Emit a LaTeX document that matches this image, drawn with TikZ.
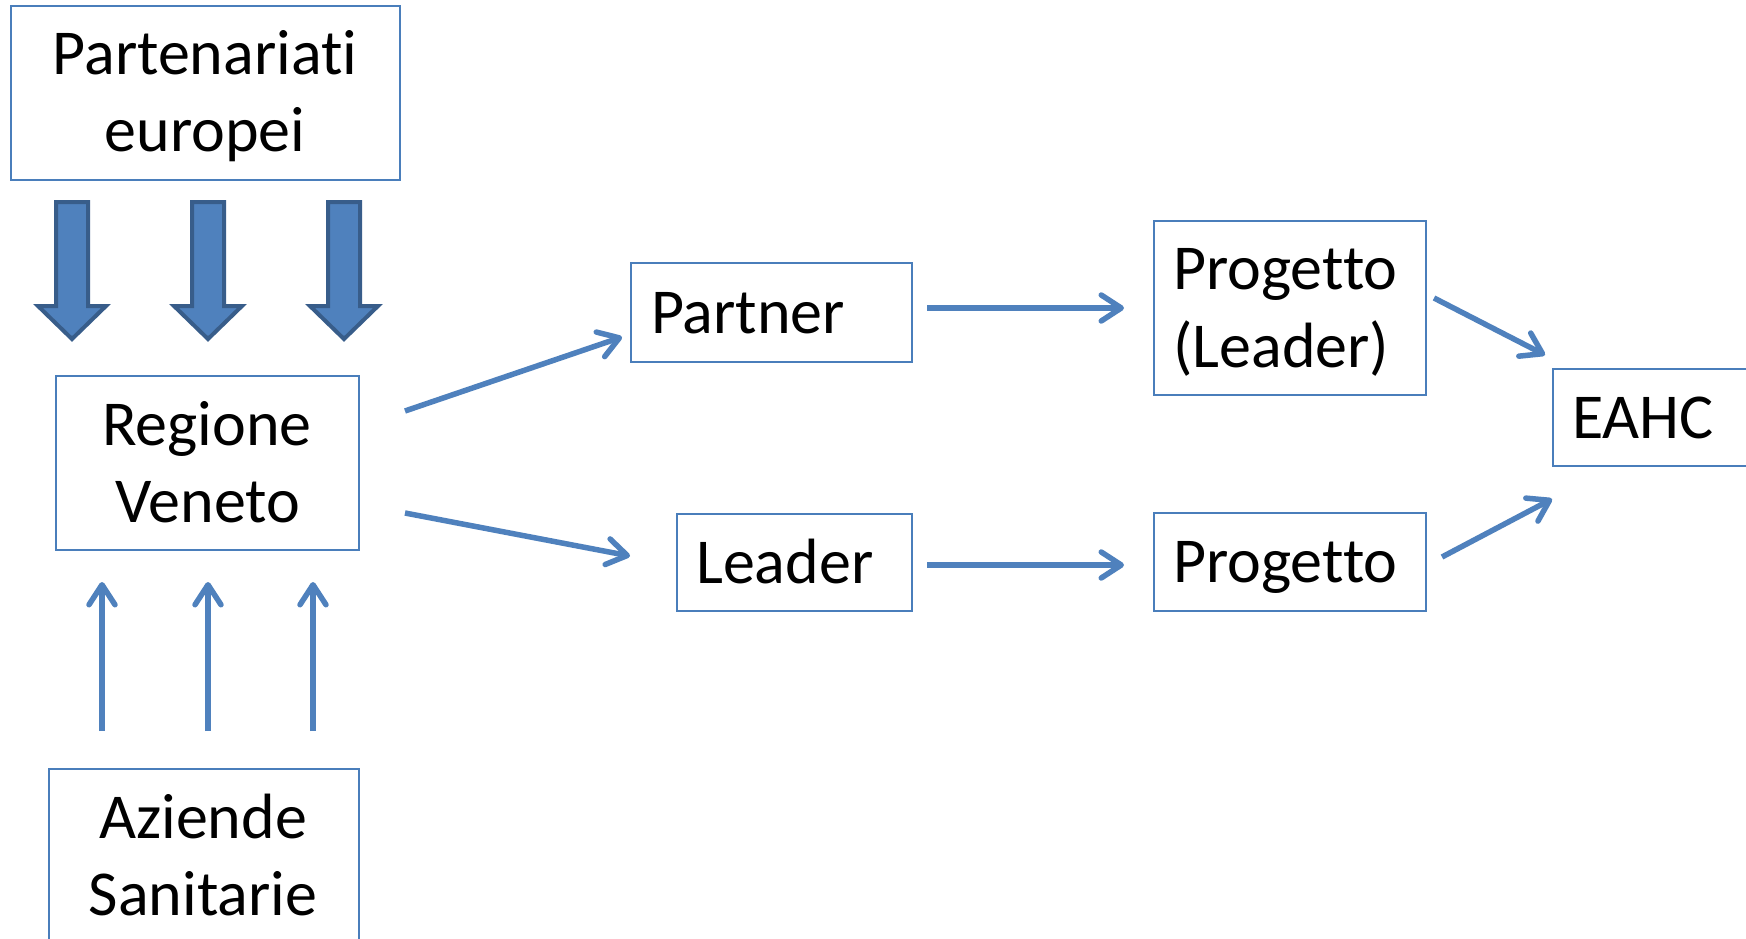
\documentclass[tikz,border=0pt]{standalone}
\usepackage{fontspec}
\setmainfont{Carlito}[Ligatures=NoCommon]
\usetikzlibrary{arrows.meta}
\definecolor{boxblue}{RGB}{74,126,187}
\definecolor{arrblue}{RGB}{79,129,189}
\definecolor{blkfill}{RGB}{79,129,189}
\definecolor{blkline}{RGB}{56,93,138}
\begin{document}
\begin{tikzpicture}[x=1pt,y=-1pt,
  box/.style={draw=boxblue,line width=2.2pt,inner sep=0pt},
  lbl/.style={inner sep=0pt,font=\fontsize{64}{77}\selectfont,anchor=base},
  lblw/.style={lbl,anchor=base west},
  conn/.style={draw=arrblue,line width=5.5pt,-{Straight Barb[length=20pt,width=26pt,round]}},
  blk/.style={fill=blkfill,draw=blkline,line width=4pt,line join=miter}]
\useasboundingbox (0,0) rectangle (1746,939);
\clip (0,0) rectangle (1746,939);
\fill[white] (0,0) rectangle (1746,939);

% boxes
\node[box,minimum width=389pt,minimum height=174pt] (part) at (205.5,93) {};
\node[box,minimum width=303pt,minimum height=174pt] (reg) at (207.5,463) {};
\node[box,minimum width=310pt,minimum height=221pt] (azi) at (204,879.5) {};
\node[box,minimum width=281pt,minimum height=99pt] (partner) at (771.5,312.5) {};
\node[box,minimum width=235pt,minimum height=97pt] (leader) at (794.5,562.5) {};
\node[box,minimum width=272pt,minimum height=174pt] (pl) at (1290,308) {};
\node[box,minimum width=272pt,minimum height=98pt] (prog) at (1290,562) {};
\node[box,minimum width=247pt,minimum height=97pt] (eahc) at (1676.5,417.5) {};

% texts
\node[lbl] (t1) at (205,75) {Partenariati};
\node[lbl] (t2) at (205,152) {europei};
\node[lbl] (t3) at (207,445) {Regione};
\node[lbl] (t4) at (208,522) {Veneto};
\node[lbl] (t5) at (203,838) {Aziende};
\node[lbl] (t6) at (203,915) {Sanitarie};
\node[lblw] (t7) at (651,333) {Partner};
\node[lblw] (t8) at (696,583) {Leader};
\node[lblw] (t9) at (1173,289) {Progetto};
\node[lblw] (t10) at (1173,367) {(Leader)};
\node[lblw] (t11) at (1173,582) {Progetto};
\node[lblw] (t12) at (1572,438) {EAHC};

% block arrows
\draw[blk] (56,202) -- (88,202) -- (88,306) -- (106,306) -- (72,339) -- (38,306) -- (56,306) -- cycle;
\draw[blk] (192,202) -- (224,202) -- (224,306) -- (242,306) -- (208,339) -- (174,306) -- (192,306) -- cycle;
\draw[blk] (328,202) -- (360,202) -- (360,306) -- (378,306) -- (344,339) -- (310,306) -- (328,306) -- cycle;

% connector end points
\coordinate (u1s) at (102,731); \coordinate (u1e) at (102,582);
\coordinate (u2s) at (208,731); \coordinate (u2e) at (208,582);
\coordinate (u3s) at (313,731); \coordinate (u3e) at (313,582);
\coordinate (a1s) at (405,411); \coordinate (a1e) at (622,337);
\coordinate (a2s) at (405,513); \coordinate (a2e) at (630,556);
\coordinate (a3s) at (927,308); \coordinate (a3e) at (1124,308);
\coordinate (a4s) at (927,565); \coordinate (a4e) at (1124,565);
\coordinate (a5s) at (1434,298); \coordinate (a5e) at (1545,355);
\coordinate (a6s) at (1442,557); \coordinate (a6e) at (1552,499);

\draw[conn] (u1s) -- (u1e);
\draw[conn] (u2s) -- (u2e);
\draw[conn] (u3s) -- (u3e);
\draw[conn] (a1s) -- (a1e);
\draw[conn] (a2s) -- (a2e);
\draw[conn] (a3s) -- (a3e);
\draw[conn] (a4s) -- (a4e);
\draw[conn] (a5s) -- (a5e);
\draw[conn] (a6s) -- (a6e);
\end{tikzpicture}
\end{document}
